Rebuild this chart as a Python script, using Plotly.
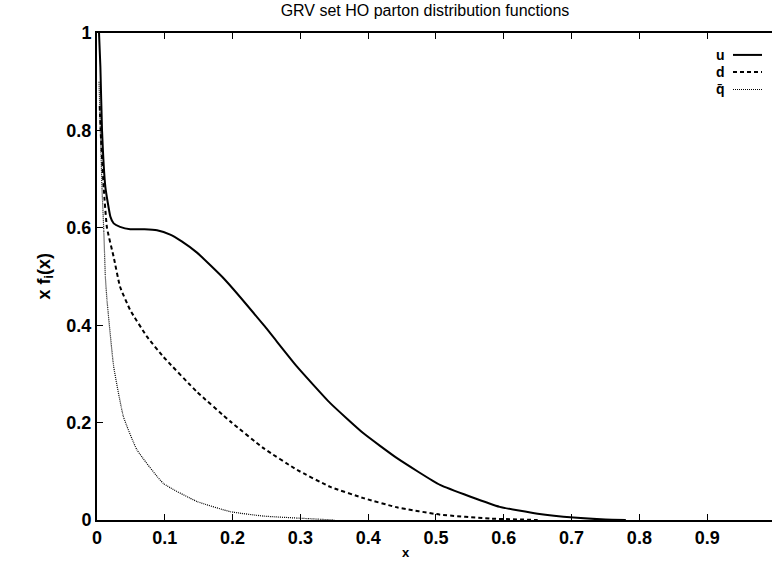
import plotly.graph_objects as go

title_text = "GRV set HO parton distribution functions"
names = ["u", "d", "q\u0304"]

x_u = [0.003, 0.005, 0.0074, 0.0123, 0.0197, 0.0246, 0.034, 0.049, 0.07, 0.0885,
       0.108, 0.125, 0.1475, 0.187, 0.246, 0.295, 0.344, 0.393, 0.4425, 0.506, 0.594,
       0.65, 0.703, 0.75, 0.78]
y_u = [1.0, 0.93, 0.80, 0.684, 0.623, 0.609, 0.602, 0.597, 0.597, 0.595,
       0.586, 0.572, 0.549, 0.496, 0.40, 0.315, 0.24, 0.178, 0.127, 0.072, 0.027,
       0.013, 0.005, 0.001, 0.0]

x_d = [0.004, 0.006, 0.01, 0.0147, 0.0246, 0.034, 0.049, 0.074, 0.098, 0.1475,
       0.197, 0.246, 0.295, 0.344, 0.393, 0.4425, 0.506, 0.58, 0.65]
y_d = [0.85, 0.78, 0.68, 0.60, 0.54, 0.479, 0.431, 0.376, 0.335, 0.263,
       0.202, 0.147, 0.103, 0.068, 0.045, 0.026, 0.011, 0.003, 0.0]

x_q = [0.003, 0.005, 0.0074, 0.01, 0.0123, 0.0147, 0.0246, 0.039, 0.059, 0.098,
       0.1475, 0.197, 0.246, 0.295, 0.35]
y_q = [0.9, 0.8, 0.68, 0.595, 0.50, 0.452, 0.315, 0.212, 0.144, 0.075,
       0.038, 0.017, 0.008, 0.004, 0.0]

x_ticks = [0, 0.1, 0.2, 0.3, 0.4, 0.5, 0.6, 0.7, 0.8, 0.9]
y_ticks = [0, 0.2, 0.4, 0.6, 0.8, 1]

FONT = "Liberation Sans, Arial, sans-serif"
styles = [dict(width=2, dash="solid"), dict(width=2, dash="4px,3px"), dict(width=1.2, dash="1px,1px")]

fig = go.Figure()
for xs, ys, nm, st in zip([x_u, x_d, x_q], [y_u, y_d, y_q], names, styles):
    fig.add_trace(go.Scatter(x=xs, y=ys, mode="lines", name=nm,
                             line=dict(color="black", shape="spline", smoothing=0.4, **st),
                             showlegend=False))

font_tick = dict(family=FONT, size=18, color="black")
axis_common = dict(showgrid=False, zeroline=False, showline=True, linecolor="black",
                   linewidth=2, ticks="inside", ticklen=6, tickcolor="black",
                   tickfont=font_tick)

fig.update_layout(
    width=772, height=561,
    margin=dict(l=97, r=0, t=33, b=41),
    paper_bgcolor="white", plot_bgcolor="white",
    showlegend=False,
    title=dict(text=title_text, x=425 / 772, xanchor="center", y=0.982, yanchor="middle",
               font=dict(family=FONT, size=16, color="black")),
    xaxis=dict(range=[0, 0.9956], tickvals=x_ticks,
               ticktext=["<b>%g</b>" % v for v in x_ticks], mirror="ticks", **axis_common),
    yaxis=dict(range=[0, 1], tickvals=y_ticks,
               ticktext=["<b>%g</b>" % v for v in y_ticks], **axis_common),
)

# axis labels
fig.add_annotation(text="<b>x f<sub>i</sub>(x)</b>", xref="paper", yref="paper",
                   x=-0.077, y=0.5, textangle=-90, showarrow=False,
                   xanchor="center", yanchor="middle",
                   font=dict(family=FONT, size=18, color="black"))
fig.add_annotation(text="<b>x</b>", xref="paper", yref="paper",
                   x=(406 - 97) / 675, y=-0.066, showarrow=False,
                   xanchor="center", yanchor="middle",
                   font=dict(family=FONT, size=13, color="black"))

# legend (text left of sample line)
leg_y = [0.955, 0.92, 0.884]
for nm, st, ly in zip(names, styles, leg_y):
    fig.add_annotation(text="<b>" + nm + "</b>", xref="paper", yref="paper",
                       x=(727 - 97) / 675, y=ly, xanchor="right", yanchor="middle",
                       showarrow=False,
                       font=dict(family=FONT, size=14, color="black"))
    fig.add_shape(type="line", xref="paper", yref="paper",
                  x0=(733 - 97) / 675, x1=(762 - 97) / 675, y0=ly, y1=ly,
                  line=dict(color="black", **st))

fig.write_html("out.html")
